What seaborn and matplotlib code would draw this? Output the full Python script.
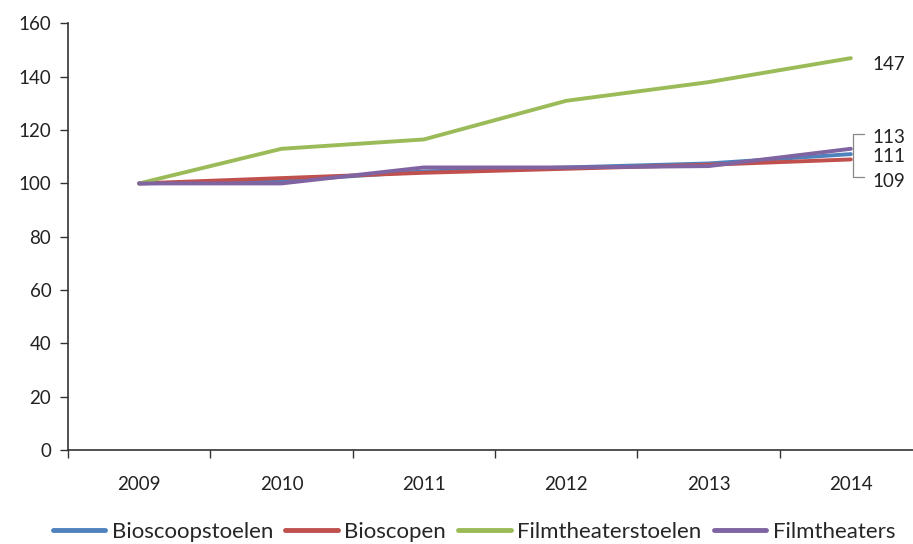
import matplotlib
matplotlib.use("Agg")
import matplotlib.pyplot as plt
import seaborn as sns
import pandas as pd
import numpy as np

years = ["2009", "2010", "2011", "2012", "2013", "2014"]
series_names = ["Bioscoopstoelen", "Bioscopen", "Filmtheaterstoelen", "Filmtheaters"]
bioscoopstoelen = [100, 101, 104.5, 106, 107.5, 111]
bioscopen = [100, 102, 104, 105.5, 107, 109]
filmtheaterstoelen = [100, 113, 116.5, 131, 138, 147]
filmtheaters = [100, 100, 106, 106, 106.5, 113]
colors = ["#4F81BD", "#C0504D", "#9BBB59", "#8064A2"]
end_labels = ["111", "109", "147", "113"]

sns.set_theme(style="white")
plt.rcParams['font.family'] = ['Lato', 'DejaVu Sans']

rows = []
for name, vals in zip(series_names, [bioscoopstoelen, bioscopen, filmtheaterstoelen, filmtheaters]):
    for i, v in enumerate(vals):
        rows.append({"pos": i, "year": years[i], "serie": name, "waarde": v})
df = pd.DataFrame(rows)

fig = plt.figure(figsize=(9.13, 5.44), dpi=100)
ax = fig.add_axes([68/913, 1-450/544, (922-68)/913, (450-23.5)/544])

sns.lineplot(data=df, x="pos", y="waarde", hue="serie", hue_order=series_names,
             palette=colors, linewidth=2.8, ax=ax, legend=False, sort=False)

ax.set_xlim(-0.5, 5.5)
ax.set_ylim(0, 160)
ax.set_yticks(np.arange(0, 161, 20))
ax.set_xticks(np.arange(-0.5, 5.6, 1))
ax.set_xticklabels([])
ax.set_xticks(np.arange(len(years)), minor=True)
ax.set_xticklabels(years, minor=True)
ax.tick_params(axis="x", which="major", length=6, width=1, color="#333333", direction="out", bottom=True)
ax.tick_params(axis="x", which="minor", length=0, pad=19, labelsize=13.5, labelcolor="#222222")
ax.tick_params(axis="y", length=6, width=1, color="#333333", direction="out", left=True, pad=6,
               labelsize=13.5, labelcolor="#222222")
ax.set_xlabel("")
ax.set_ylabel("")
for s in ["top", "right"]:
    ax.spines[s].set_visible(False)
for s in ["left", "bottom"]:
    ax.spines[s].set_color("#333333")
    ax.spines[s].set_linewidth(1.2)

# end labels
last = len(years) - 1
lx = last + 0.155
ax.text(lx, filmtheaterstoelen[-1] - 2.3, end_labels[2], va="center", ha="left", fontsize=13.5, color="#222222")
# bracket leader lines for the three close labels
top_lbl = filmtheaters[-1] + 4.3
mid_lbl = bioscoopstoelen[-1] - 0.8
bot_lbl = bioscopen[-1] - 8.2
top_y = filmtheaters[-1] + 5.4
bot_y = bioscopen[-1] - 6.7
xb = last + 0.014
xe = last + 0.09
ax.plot([xb, xe], [top_y, top_y], color="#888888", lw=0.9)
ax.plot([xb, xb], [top_y, bot_y], color="#888888", lw=0.9)
ax.plot([xb, xe], [bot_y, bot_y], color="#888888", lw=0.9)
ax.text(lx, top_lbl, end_labels[3], va="center", ha="left", fontsize=13.5, color="#222222")
ax.text(lx, mid_lbl, end_labels[0], va="center", ha="left", fontsize=13.5, color="#222222")
ax.text(lx, bot_lbl, end_labels[1], va="center", ha="left", fontsize=13.5, color="#222222")

handles = [plt.Line2D([0], [0], color=c, lw=3.5) for c in colors]
fig.legend(handles, series_names, loc="center", bbox_to_anchor=(474/913, 1-532/544), ncol=4,
           frameon=False, fontsize=16, handlelength=2.35, handletextpad=0.3, columnspacing=0.55,
           borderpad=0, borderaxespad=0)

fig.savefig("out.png", dpi=100)
